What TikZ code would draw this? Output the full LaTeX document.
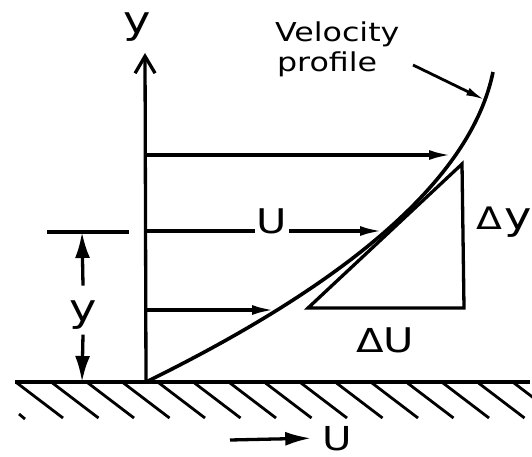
\documentclass[tikz,border=0pt]{standalone}
\usepackage{fontspec}
\setmainfont{DejaVu Sans}
\usetikzlibrary{arrows.meta}
\tikzset{
  flow/.style={-{Latex[length=22pt,width=10pt]}},
  dimarr/.style={-{Latex[length=26pt,width=15pt]}},
  lbl/.style={inner sep=0pt, xscale=1.22},
}
\newcommand{\fsz}[1]{\fontsize{#1}{#1}\selectfont}
\begin{document}
\begin{tikzpicture}[x=1pt,y=-1pt,line width=3.3pt]
  \useasboundingbox (0,0) rectangle (532,457);
  % wall
  \coordinate (W1) at (15,382);
  \coordinate (W2) at (530,382);
  \draw (W1) -- (W2);
  \foreach \k in {0,...,14}
    \draw[line width=2.8pt] ({17+35.5*\k},383) -- ++(46,35);
  \draw[line width=2.8pt] (19,414) -- (25,419);
  % axis
  \coordinate (O) at (146,382);
  \coordinate (Ytip) at (145,53);
  \draw[-{Straight Barb[length=17pt,width=20pt]}] (O) -- (Ytip);
  \node[lbl, anchor=base, font=\fsz{38}] (ylab) at (137,34) {y};
  % profile
  \coordinate (P4) at (485,100);
  \coordinate (P5) at (493,72);
  \draw[line width=3.6pt] (O) .. controls (356,279) and (472,175) .. (P5);
  % velocity arrows
  \coordinate (A1) at (145,155);
  \coordinate (A2) at (145,231);
  \coordinate (A3) at (145,310);
  \coordinate (T1) at (451,155);
  \coordinate (T2) at (382,231);
  \coordinate (T3) at (274,310);
  \draw[flow] (A1) -- (T1);
  \node[lbl, anchor=base, font=\fsz{34}] (umid) at (272,233) {U};
  \draw (A2) -- (umid.base west |- A2);
  \draw[flow] (umid.base east |- A2) -- (T2);
  \draw[flow] (A3) -- (T3);
  % tangent triangle
  \coordinate (Ta) at (308,308);
  \coordinate (Tb) at (464,308);
  \coordinate (Tc) at (462,164);
  \draw (Ta) -- (Tb) -- (Tc) -- cycle;
  \node[lbl, anchor=base west] (dy) at (474,229) {{\fsz{31}Δ}\hspace{2pt}{\fsz{38}y}};
  \node[lbl, anchor=base west] (du) at (354,352) {{\fsz{33}Δ}{\fsz{34}U}};
  % height y
  \coordinate (D1) at (47,232);
  \coordinate (D2) at (129,232);
  \draw (D1) -- (D2);
  \coordinate (Dtop) at (82,232);
  \coordinate (Dbot) at (82,382);
  \node[lbl, anchor=base, font=\fsz{38}] (ydim) at (83,321) {y};
  \draw[dimarr] ([yshift=13pt]ydim.north) -- (Dtop);
  \draw[dimarr] ([yshift=-4pt]ydim.south) -- (Dbot);
  % labels
  \node[lbl, anchor=base west, font=\fsz{26}] (vel) at (273,42) {Velocity};
  \node[lbl, anchor=base west, font=\fsz{26}] (prof) at (275,72) {profile};
  \coordinate (lead) at (413,65);
  \draw[-{Latex[length=19pt,width=8pt]}, line width=2.8pt] (lead) -- (P4);
  % wall velocity
  \node[lbl, anchor=base, font=\fsz{33}] (ubot) at (337,450) {U};
  \coordinate (B1) at (230,440);
  \draw[-{Latex[length=26pt,width=14pt]}] (B1) -- ([xshift=-9pt]ubot.west);
\end{tikzpicture}
\end{document}
